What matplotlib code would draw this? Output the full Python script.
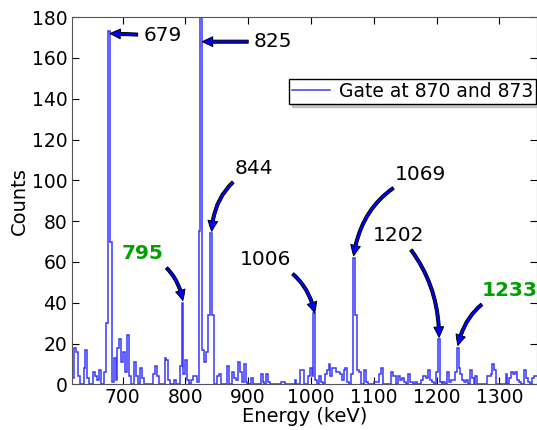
import numpy as np
import matplotlib
matplotlib.use("Agg")
import matplotlib.pyplot as plt
from matplotlib.lines import Line2D

# gated spectrum, 3 keV bins starting at 620 keV
bin_start = 620
bin_width = 3
counts = [
    3, 18, 16, 4, 0, 0, 8, 17, 3, 0,          # 620
    0, 6, 4, 2, 7, 0, 0, 6, 30, 173,          # 650
    70, 1, 13, 2, 18, 22, 11, 16, 6, 24,      # 680
    4, 0, 0, 11, 4, 0, 8, 3, 0, 0,            # 710
    0, 0, 0, 5, 9, 4, 0, 0, 0, 13,            # 740
    12, 2, 0, 0, 2, 0, 0, 9, 40, 5,           # 770
    12, 2, 0, 2, 4, 4, 1, 75, 190, 17,        # 800
    11, 16, 34, 74, 34, 0, 0, 4, 5, 0,        # 830
    0, 0, 9, 0, 0, 6, 3, 2, 11, 6,            # 860
    1, 10, 1, 0, 0, 3, 0, 0, 0, 0,            # 890
    5, 1, 0, 5, 1, 0, 0, 0, 0, 0,             # 920
    0, 1, 1, 0, 0, 0, 0, 0, 2, 0,             # 950
    0, 7, 7, 0, 0, 4, 8, 4, 35, 2,            # 980
    0, 4, 1, 0, 5, 7, 10, 4, 8, 8,            # 1010
    6, 6, 5, 2, 7, 8, 1, 0, 5, 62,            # 1040
    34, 7, 6, 0, 0, 7, 1, 0, 0, 0,            # 1070
    1, 1, 1, 5, 8, 0, 0, 0, 0, 6,             # 1100
    4, 4, 0, 4, 2, 3, 1, 0, 5, 1,             # 1130
    1, 0, 1, 0, 0, 2, 4, 4, 3, 7,             # 1160
    2, 1, 0, 6, 22, 1, 0, 1, 0, 6,            # 1190
    1, 2, 2, 6, 18, 8, 5, 2, 1, 2,            # 1220
    0, 7, 3, 0, 4, 0, 0, 0, 0, 0,             # 1250
    4, 4, 5, 10, 7, 0, 0, 0, 0, 0,            # 1280
    5, 0, 3, 6, 5, 6, 2, 1, 0, 0,             # 1310
    7, 3, 1, 0, 3, 4, 4,                      # 1340
]
edges = bin_start + bin_width * np.arange(len(counts) + 1)
lows = edges[:-1]

# peak labels
peak_names = ["679", "825", "844", "795", "1006", "1069", "1202", "1233"]
peak_x = [680, 827, 842, 796, 1006, 1068, 1204, 1234]
peak_y = [172, 168, 75, 41, 35, 63, 23, 19]
text_x = [733, 909, 879, 698, 887, 1134, 1099, 1272]
text_y = [171, 168, 106, 64, 61, 103, 73, 46]
text_col = ["black", "black", "black", "#00a000", "black", "black", "black", "#00a000"]
text_bold = [False, False, False, True, False, False, False, True]
arc_rad = [0.0, 0.0, 0.3, -0.3, -0.3, 0.3, -0.2, 0.3]

plt.rcParams['font.family'] = 'DejaVu Sans'
fig = plt.figure(figsize=(5.37, 4.30), dpi=100)
ax = fig.add_axes([0.1346, 0.1063, 0.8654, 0.8537])

line_col = '#3838ff'
ax.hist(lows, bins=edges, weights=counts, histtype='step', color=line_col, lw=1.1)

for name, px, py, tx, ty, col, bold, rad in zip(peak_names, peak_x, peak_y, text_x,
                                                text_y, text_col, text_bold, arc_rad):
    ax.annotate(name, xy=(px, py), xytext=(tx, ty), ha='left', va='center',
                fontsize=14.5, color=col, fontweight='bold' if bold else 'normal',
                arrowprops=dict(arrowstyle='simple,head_width=0.7,head_length=0.75,tail_width=0.22',
                                fc='blue', ec='black', lw=0.7, mutation_scale=10,
                                connectionstyle='arc3,rad=%.2f' % rad,
                                shrinkA=2, shrinkB=0))

ax.set_xlim(620, 1360)
ax.set_ylim(0, 180)
ax.set_xticks(np.arange(700, 1301, 100))
ax.set_yticks(np.arange(0, 181, 20))
ax.tick_params(direction='in', top=True, right=True, length=5, labelsize=13.5)
ax.tick_params(axis='x', pad=3)
for sp in ax.spines.values():
    sp.set_color('#555555')
ax.set_xlabel('Energy (keV)', fontsize=14, labelpad=0)
ax.set_ylabel('Counts', fontsize=14, labelpad=2)

handle = Line2D([], [], color=line_col, lw=1.1)
leg = ax.legend([handle], ['Gate at 870 and 873'], loc='upper right',
                bbox_to_anchor=(0.998, 0.831), borderaxespad=0,
                fontsize=13.5, fancybox=False, shadow={'color': '0.6'}, framealpha=1,
                edgecolor='black', borderpad=0.15, handlelength=2.0, handletextpad=0.5)

fig.savefig('out.png', dpi=100)
